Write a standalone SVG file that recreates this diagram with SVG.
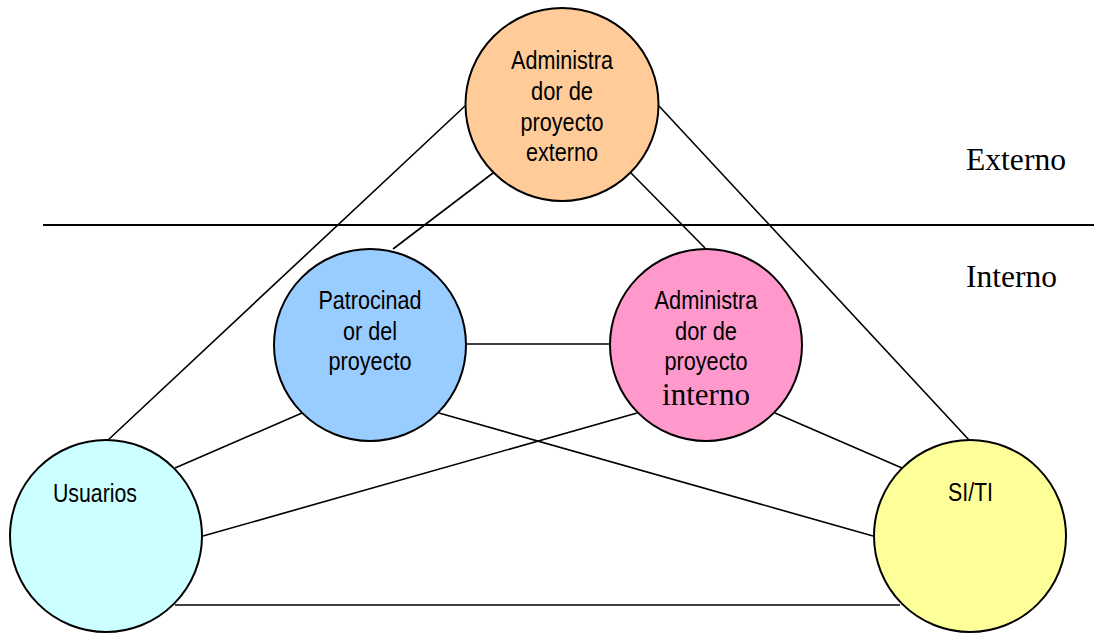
<svg xmlns="http://www.w3.org/2000/svg" width="1094" height="633" viewBox="0 0 1094 633">
  <style>
    .bg { fill: #ffffff; }
    .edge { stroke: #000000; stroke-width: 1.6; fill: none; }
    .divider { stroke: #000000; stroke-width: 2; }
    .node { stroke: #000000; stroke-width: 2; }
    .sans { font-family: "Liberation Sans", Arial, sans-serif; font-size: 25px; fill: #000000; text-anchor: middle; }
    .serif { font-family: "Liberation Serif", "Times New Roman", serif; font-size: 32px; fill: #000000; }
  </style>

  <rect class="bg" x="0" y="0" width="1094" height="633"/>

  <!-- boundary between external and internal stakeholders -->
  <line class="divider" x1="43" y1="225" x2="1094" y2="225"/>
  <text class="serif" x="966" y="170" textLength="100" lengthAdjust="spacingAndGlyphs">Externo</text>
  <text class="serif" x="966" y="287" textLength="91" lengthAdjust="spacingAndGlyphs">Interno</text>

  <!-- relationships -->
  <g id="connectors">
    <line class="edge" x1="465" y1="106" x2="107" y2="441"/>
    <line class="edge" x1="659" y1="106" x2="970" y2="441"/>
    <line class="edge" x1="493" y1="173" x2="393" y2="249"/>
    <line class="edge" x1="631" y1="173" x2="705" y2="248"/>
    <line class="edge" x1="466" y1="344" x2="610" y2="344"/>
    <line class="edge" x1="302" y1="413" x2="175" y2="468"/>
    <line class="edge" x1="439" y1="413" x2="873" y2="536"/>
    <line class="edge" x1="637" y1="413" x2="203" y2="536"/>
    <line class="edge" x1="775" y1="413" x2="902" y2="468"/>
    <line class="edge" x1="175" y1="605" x2="900" y2="605"/>
  </g>

  <g id="admin-externo">
    <circle class="node" cx="562" cy="104.5" r="96.5" fill="#FFCC99"/>
    <text class="sans" x="562" y="69" textLength="102" lengthAdjust="spacingAndGlyphs">Administra</text>
    <text class="sans" x="562" y="100" textLength="62" lengthAdjust="spacingAndGlyphs">dor de</text>
    <text class="sans" x="562" y="131" textLength="83" lengthAdjust="spacingAndGlyphs">proyecto</text>
    <text class="sans" x="562" y="161" textLength="72" lengthAdjust="spacingAndGlyphs">externo</text>
  </g>

  <g id="patrocinador">
    <circle class="node" cx="370" cy="345" r="96" fill="#99CCFF"/>
    <text class="sans" x="370" y="309" textLength="103" lengthAdjust="spacingAndGlyphs">Patrocinad</text>
    <text class="sans" x="370" y="340" textLength="54" lengthAdjust="spacingAndGlyphs">or del</text>
    <text class="sans" x="370" y="370" textLength="83" lengthAdjust="spacingAndGlyphs">proyecto</text>
  </g>

  <g id="admin-interno">
    <circle class="node" cx="706" cy="345" r="96" fill="#FF99CC"/>
    <text class="sans" x="706" y="309" textLength="103" lengthAdjust="spacingAndGlyphs">Administra</text>
    <text class="sans" x="706" y="340" textLength="62" lengthAdjust="spacingAndGlyphs">dor de</text>
    <text class="sans" x="706" y="370" textLength="83" lengthAdjust="spacingAndGlyphs">proyecto</text>
    <text class="serif" x="706" y="405" text-anchor="middle" textLength="88" lengthAdjust="spacingAndGlyphs">interno</text>
  </g>

  <g id="usuarios">
    <circle class="node" cx="106" cy="536" r="96" fill="#CCFFFF"/>
    <text class="sans" x="95" y="502" textLength="84" lengthAdjust="spacingAndGlyphs">Usuarios</text>
  </g>

  <g id="si-ti">
    <circle class="node" cx="970" cy="536" r="96" fill="#FFFF99"/>
    <text class="sans" x="970.5" y="501" textLength="45" lengthAdjust="spacingAndGlyphs">SI/TI</text>
  </g>
</svg>
